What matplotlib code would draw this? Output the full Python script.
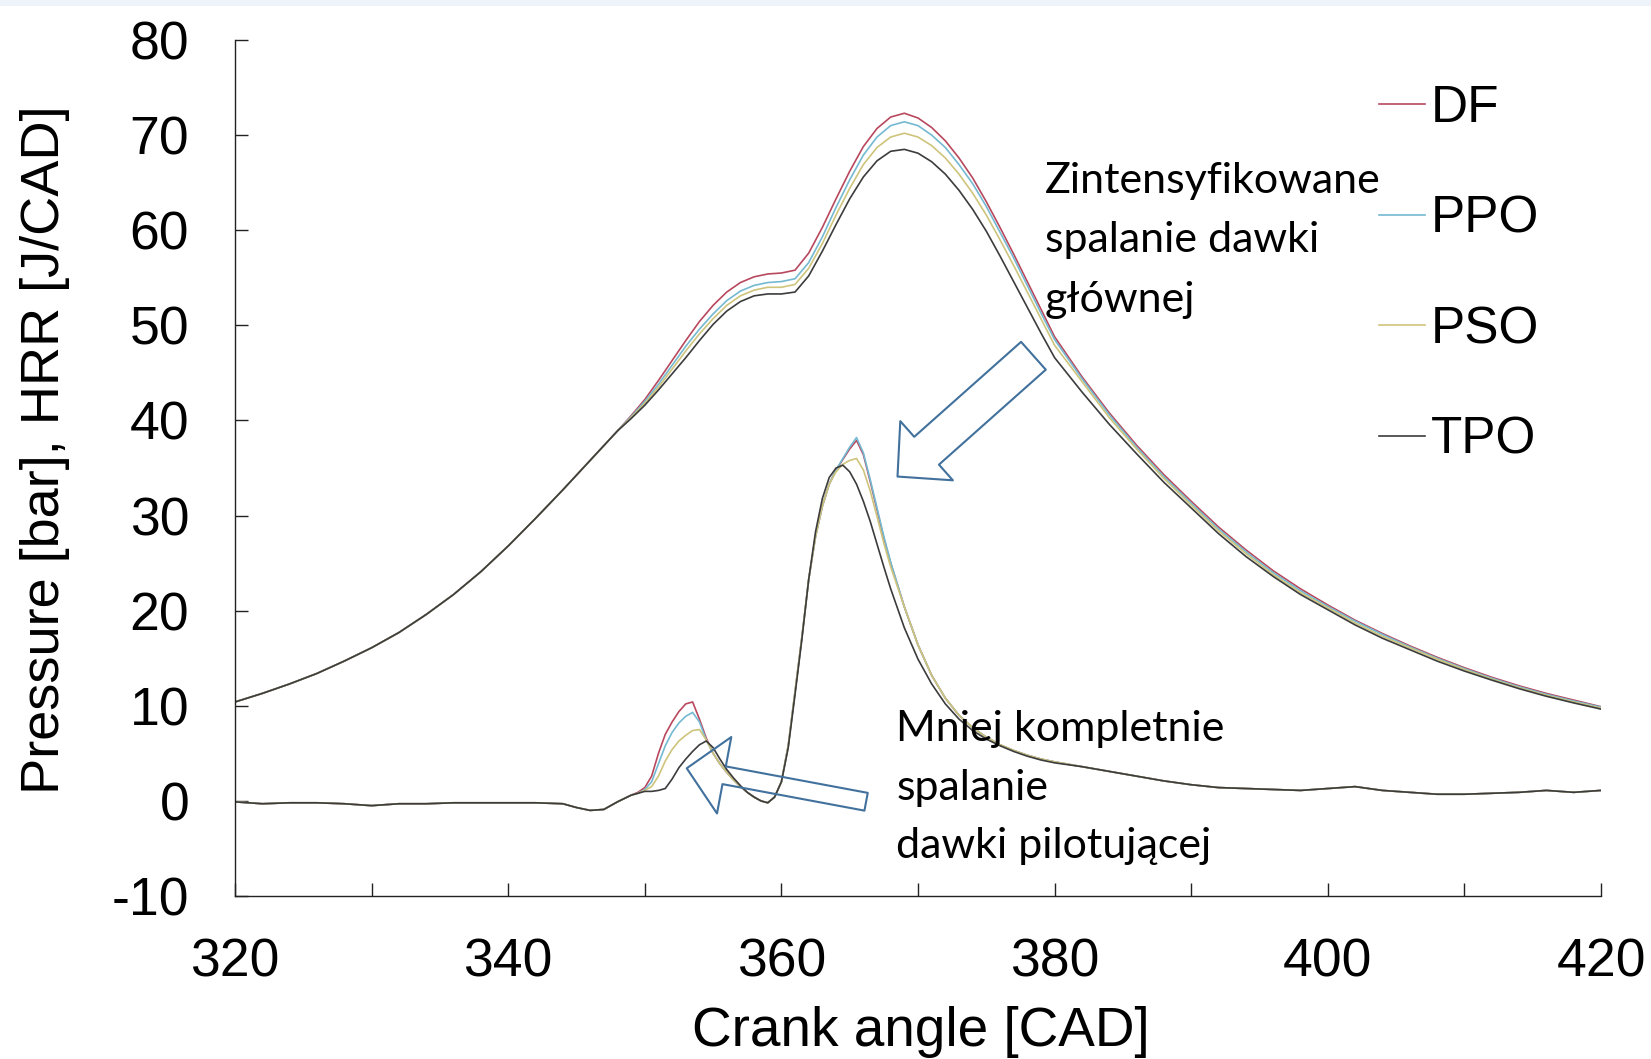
import numpy as np
import matplotlib.pyplot as plt
from matplotlib.patches import Rectangle

plt.rcParams['font.family'] = ['Liberation Sans', 'DejaVu Sans']
plt.rcParams['axes.unicode_minus'] = False

# ---- pressure traces [bar] ----
p_ca = [320, 322, 324, 326, 328, 330, 332, 334, 336, 338, 340, 342, 344, 346, 348,
        349, 350, 351, 352, 353, 354, 355, 356, 357, 358, 359, 360, 361, 362, 363, 364,
        365, 366, 367, 368, 369, 370, 371, 372, 373, 374, 375, 376, 377, 378, 379, 380,
        382, 384, 386, 388, 390, 392, 394, 396, 398, 400, 402, 404, 406, 408, 410, 412,
        414, 416, 418, 420]

p_comp = [10.4, 11.3, 12.3, 13.4, 14.7, 16.1, 17.7, 19.6, 21.7, 24.1, 26.8, 29.7, 32.7, 35.8, 38.9]

p_df = p_comp + [40.5, 42.2, 44.2, 46.3, 48.4, 50.4, 52.1, 53.5, 54.5, 55.1, 55.4, 55.5, 55.8,
                 57.6, 60.3, 63.3, 66.2, 68.8, 70.7, 71.9, 72.3, 71.8, 70.8, 69.4, 67.6, 65.5,
                 63.0, 60.3, 57.5, 54.6, 51.7, 48.8,
                 44.6, 40.8, 37.4, 34.3, 31.5, 28.8, 26.4, 24.2, 22.3, 20.6, 19.0, 17.6, 16.3,
                 15.1, 14.0, 13.0, 12.1, 11.3, 10.6, 9.9]
p_ppo = p_comp + [40.4, 42.0, 43.8, 45.8, 47.8, 49.6, 51.2, 52.6, 53.6, 54.2, 54.5, 54.6, 54.9,
                  56.6, 59.3, 62.4, 65.3, 67.9, 69.8, 71.0, 71.4, 71.0, 70.0, 68.7, 66.9, 64.9,
                  62.5, 59.8, 57.1, 54.2, 51.3, 48.5,
                  44.4, 40.6, 37.2, 34.1, 31.3, 28.6, 26.2, 24.0, 22.1, 20.45, 18.9, 17.5, 16.2,
                  15.0, 13.9, 12.9, 12.0, 11.2, 10.5, 9.85]
p_pso = p_comp + [40.3, 41.8, 43.5, 45.4, 47.3, 49.1, 50.7, 52.1, 53.1, 53.7, 54.0, 54.0, 54.3,
                  56.0, 58.6, 61.6, 64.4, 66.9, 68.7, 69.8, 70.2, 69.8, 68.9, 67.6, 65.9, 63.9,
                  61.6, 59.0, 56.3, 53.5, 50.7, 47.9,
                  44.1, 40.3, 37.0, 33.9, 31.1, 28.4, 26.0, 23.8, 21.9, 20.3, 18.7, 17.3, 16.1,
                  14.9, 13.8, 12.8, 11.9, 11.1, 10.4, 9.75]
p_tpo = p_comp + [40.2, 41.6, 43.2, 44.9, 46.6, 48.4, 50.1, 51.5, 52.5, 53.1, 53.3, 53.3, 53.5,
                  55.2, 57.8, 60.6, 63.3, 65.6, 67.3, 68.3, 68.5, 68.1, 67.2, 65.9, 64.2, 62.2,
                  59.9, 57.3, 54.6, 51.9, 49.2, 46.6,
                  43.0, 39.6, 36.5, 33.5, 30.8, 28.1, 25.7, 23.6, 21.7, 20.1, 18.5, 17.1, 15.9,
                  14.7, 13.65, 12.7, 11.8, 11.0, 10.3, 9.65]

# ---- heat release rate [J/CAD] ----
hrr_ca = ([320, 322, 324, 326, 328, 330, 332, 334, 336, 338, 340, 342, 344, 345, 346, 347, 348, 349]
          + list(np.arange(349.5, 368.01, 0.5))
          + [369, 370, 371, 372, 373, 374, 375, 376, 377, 378, 379, 380,
             382, 384, 386, 388, 390, 392, 394, 396, 398, 400, 402, 404, 406, 408, 410, 412,
             414, 416, 418, 420])

hrr_early = [-0.1, -0.3, -0.2, -0.2, -0.3, -0.5, -0.3, -0.3, -0.2, -0.2, -0.2, -0.2, -0.3,
             -0.7, -1.0, -0.9, -0.1, 0.6]

hrr_df_mid = [0.9, 1.4, 2.6, 5.0, 7.0, 8.3, 9.4, 10.2, 10.4, 8.6, 6.6, 5.0, 3.9, 3.0, 2.2, 1.5,
              0.9, 0.4, 0.0, -0.2, 0.4, 2.0, 5.8, 11.5, 17.2, 23.3, 27.8, 31.0, 33.3, 34.8,
              35.9, 37.0, 37.9, 36.4, 33.6, 30.6, 27.6, 25.0]
hrr_ppo_mid = [0.8, 1.2, 2.0, 3.9, 5.8, 7.2, 8.2, 8.9, 9.3, 8.3, 6.4, 5.0, 3.9, 3.0, 2.2, 1.5,
               0.9, 0.4, 0.0, -0.2, 0.4, 2.0, 5.8, 11.5, 17.2, 23.3, 27.8, 31.0, 33.3, 34.8,
               36.0, 37.2, 38.2, 36.6, 33.8, 30.8, 27.8, 25.1]
hrr_pso_mid = [0.8, 1.1, 1.5, 2.6, 4.2, 5.4, 6.3, 6.9, 7.4, 7.5, 6.4, 5.0, 3.9, 3.0, 2.2, 1.5,
               0.9, 0.4, 0.0, -0.2, 0.4, 2.0, 5.8, 11.5, 17.2, 23.3, 27.8, 31.0, 33.3, 34.6,
               35.4, 35.8, 36.0, 34.8, 32.6, 29.9, 27.1, 24.6]
hrr_tpo_mid = [0.8, 1.0, 1.0, 1.1, 1.3, 2.3, 3.5, 4.4, 5.2, 5.9, 6.3, 5.6, 4.4, 3.3, 2.4, 1.6,
               0.9, 0.4, 0.0, -0.2, 0.4, 2.0, 5.6, 11.2, 17.0, 23.3, 28.3, 31.8, 34.0, 35.0,
               35.3, 34.6, 33.3, 31.5, 29.4, 27.0, 24.6, 22.3]

hrr_late = [20.4, 16.4, 13.2, 10.8, 9.0, 7.7, 6.7, 5.9, 5.3, 4.8, 4.4, 4.1]
hrr_tpo_late = [18.2, 14.9, 12.3, 10.2, 8.6, 7.4, 6.5, 5.8, 5.2, 4.7, 4.3, 4.0]
hrr_tail = [3.6, 3.1, 2.6, 2.1, 1.7, 1.4, 1.3, 1.2, 1.1, 1.3, 1.5, 1.1, 0.9, 0.7, 0.7, 0.8,
            0.9, 1.1, 0.9, 1.1]

hrr_df = hrr_early + hrr_df_mid + hrr_late + hrr_tail
hrr_ppo = hrr_early + hrr_ppo_mid + hrr_late + hrr_tail
hrr_pso = hrr_early + hrr_pso_mid + hrr_late + hrr_tail
hrr_tpo = hrr_early + hrr_tpo_mid + hrr_tpo_late + hrr_tail

labels = ['DF', 'PPO', 'PSO', 'TPO']
colors = ['#b8485e', '#74b9d2', '#cfc47c', '#3c3c3c']
pressures = [p_df, p_ppo, p_pso, p_tpo]
hrrs = [hrr_df, hrr_ppo, hrr_pso, hrr_tpo]

W, H = 1651, 1059
fig = plt.figure(figsize=(W / 100, H / 100), dpi=100)
fig.add_artist(Rectangle((0, 1 - 6 / H), 1, 6 / H, transform=fig.transFigure,
                         color='#eef3f9', lw=0))
ax = fig.add_axes([235 / W, 1 - 896 / H, 1366 / W, 856 / H])

for p, q, c, lab in zip(pressures, hrrs, colors, labels):
    ax.plot(p_ca, p, color=c, lw=1.2, label=lab)
    ax.plot(hrr_ca, q, color=c, lw=1.2)

ax.set_xlim(320, 420)
ax.set_ylim(-10, 80)
ax.set_xticks(np.arange(320, 421, 20))
ax.set_xticks(np.arange(330, 420, 20), minor=True)
ax.set_yticks(np.arange(-10, 81, 10))
for s in ['top', 'right']:
    ax.spines[s].set_visible(False)
for s in ['left', 'bottom']:
    ax.spines[s].set_color('#222222')
    ax.spines[s].set_linewidth(1.0)
ax.tick_params(axis='both', which='both', direction='in', length=9.4, width=1.0,
               color='#222222', labelsize=38.5)
ax.tick_params(axis='y', pad=33)
ax.tick_params(axis='x', pad=30)

ax.set_ylabel('Pressure [bar], HRR [J/CAD]', fontsize=39)
ax.yaxis.set_label_coords(-0.121, 0.521)
ax.set_xlabel('Crank angle [CAD]', fontsize=39.5)
ax.xaxis.set_label_coords(0.502, -0.128)

fig.legend(loc='upper left', bbox_to_anchor=(1379 / W, 1 - 84 / H), frameon=False,
           fontsize=37, handlelength=0.9, handletextpad=0.1, labelspacing=1.2,
           borderpad=0, borderaxespad=0)

note_font = ['Lato', 'DejaVu Sans']
ax.text(379.3, 67.2, 'Zintensyfikowane\nspalanie dawki\ngłównej', fontsize=31,
        family=note_font, va='top', ha='left', linespacing=1.69)
ax.text(368.4, 9.55, 'Mniej kompletnie\nspalanie\ndawki pilotującej', fontsize=31,
        family=note_font, va='top', ha='left', linespacing=1.66)

blue = '#41719c'
ax.annotate('', xy=(368.5, 34.1), xytext=(378.45, 46.8),
            arrowprops=dict(arrowstyle='simple,head_length=28,head_width=57,tail_width=26.8',
                            mutation_scale=1, fc='none', ec=blue, lw=1.5,
                            shrinkA=0, shrinkB=0))
ax.annotate('', xy=(353.07, 3.43), xytext=(366.2, -0.09),
            arrowprops=dict(arrowstyle='simple,head_length=27.4,head_width=56,tail_width=13',
                            mutation_scale=1, fc='none', ec=blue, lw=1.5,
                            shrinkA=0, shrinkB=0))

fig.savefig('out.png', dpi=100)
